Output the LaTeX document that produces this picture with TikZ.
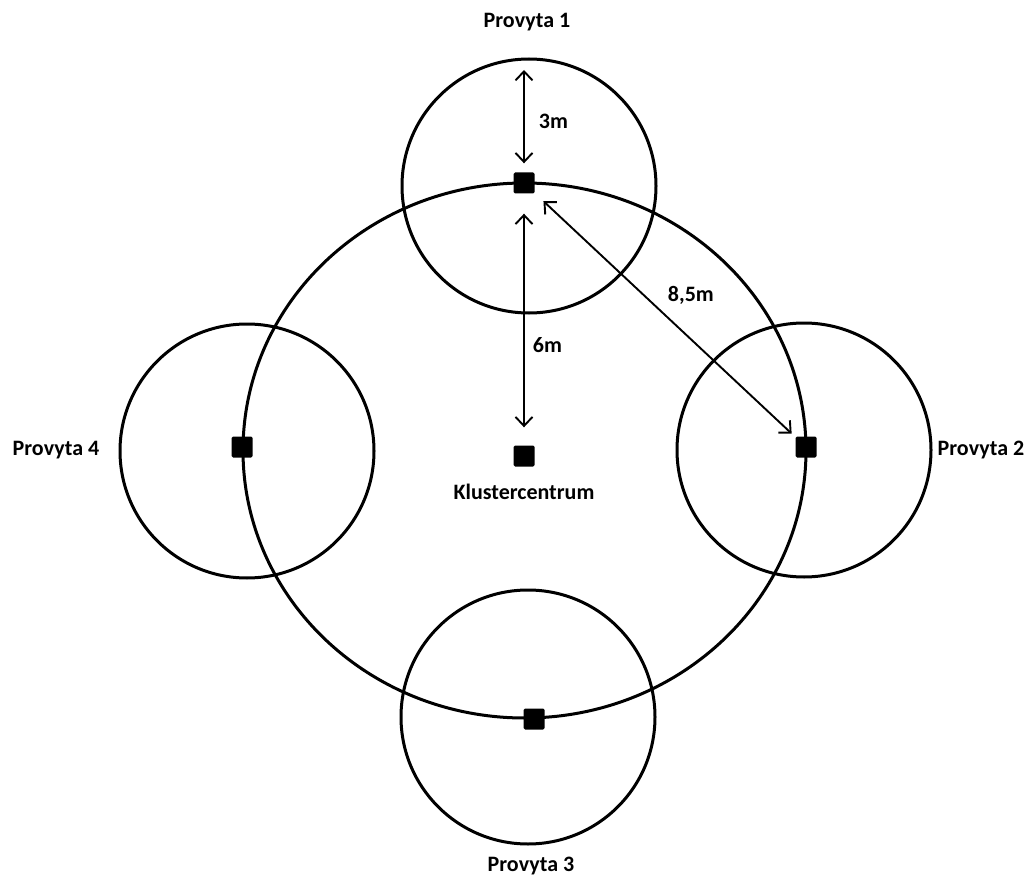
\documentclass[tikz,border=0pt]{standalone}
\usepackage{fontspec}
\setmainfont{Carlito}
\usetikzlibrary{arrows.meta,positioning}

\tikzset{
  punkt/.style={fill=black, rounded corners=1.5pt, minimum size=21pt, inner sep=0pt},
  cirkel/.style={line width=3pt},
  matt/.style={<->, line width=1.9pt, >={Straight Barb[length=9pt,width=17pt]}},
  etikett/.style={font=\fontsize{22}{26}\selectfont\bfseries, inner sep=0pt}
}

\begin{document}
\begin{tikzpicture}[x=1pt,y=-1pt]
        \useasboundingbox (0,0) rectangle (1029,880);

        % cerchi
        \draw[cirkel] (524.5,450.5) ellipse [x radius=281.5, y radius=267.5]; % kluster
        \draw[cirkel] (529,186) circle (127); % provyta 1
        \draw[cirkel] (804,450) circle (127); % provyta 2
        \draw[cirkel] (528,717) circle (127); % provyta 3
        \draw[cirkel] (247,451) circle (127); % provyta 4

        % punti
        \node[punkt] (p1) at (524,183) {};
        \node[punkt] (p2) at (806,447) {};
        \node[punkt] (p3) at (534,719) {};
        \node[punkt] (p4) at (242,447) {};
        \node[punkt] (kc) at (524,456) {};
        \coordinate (topp) at (524,70);

        % testi
        \node[etikett] (t1) at (527,22) {Provyta 1};
        \node[etikett] (t2) at (981,450) {Provyta 2};
        \node[etikett] (t3) at (531,866) {Provyta 3};
        \node[etikett] (t4) at (56,450) {Provyta 4};
        \node[etikett, below=28pt of kc.center] (tkc) {Klustercentrum};

        % misure
        \draw[matt, shorten >=9pt] (topp) -- node[etikett, right=14pt] (m3) {3m} (p1);
        \draw[matt, shorten <=20pt, shorten >=18pt] (p1) -- node[etikett, right=8pt, pos=0.6] (m6) {6m} (kc);
        \draw[matt, shorten <=12pt, shorten >=5pt] (p1) -- node[etikett, above right=10pt and 2pt, pos=0.5] (m85) {8,5m} (p2);
    \end{tikzpicture}
\end{document}
